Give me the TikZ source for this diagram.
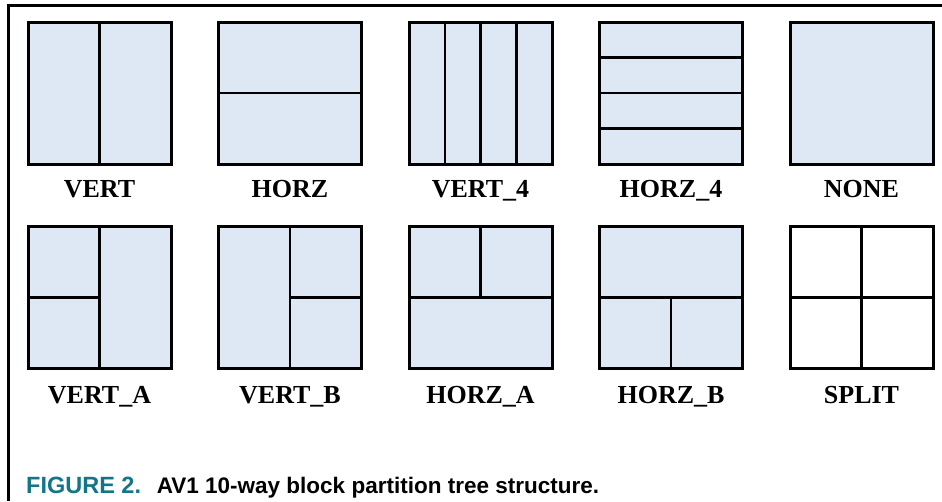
\documentclass[tikz,border=0pt]{standalone}
\usepackage{fontspec}
\usetikzlibrary{calc}
\newfontfamily\lblfont{Liberation Serif}
\newfontfamily\capfont{Liberation Sans}
\definecolor{blockfill}{RGB}{221,232,244}
\definecolor{capteal}{RGB}{18,118,136}
\tikzset{
  blk/.style={draw=black, line width=3pt, fill=blockfill, rectangle,
    minimum width=143pt, minimum height=142pt, inner sep=0pt, outer sep=0pt},
  wblk/.style={blk, fill=white},
  divl/.style={draw=black, line width=2.5pt},
  lbl/.style={anchor=base, inner sep=0pt, font=\lblfont\bfseries\fontsize{26}{28}\selectfont},
  frm/.style={draw=black, line width=3pt}
}
\begin{document}
\begin{tikzpicture}[x=1pt, y=-1pt]
\useasboundingbox (0,0) rectangle (942,501);
% frame
\coordinate (fbl) at (8,501);
\coordinate (ftl) at (8,5.5);
\coordinate (ftr) at (942,5.5);
\draw[frm] (fbl) -- (ftl) -- (ftr);

% row 1
\node[blk] (b1) at (99.5,93) {};
\node[blk] (b2) at (290,93) {};
\node[blk] (b3) at (480.5,93) {};
\node[blk] (b4) at (671,93) {};
\node[blk] (b5) at (861.5,93) {};
% row 2
\node[blk] (b6) at (99.5,297.5) {};
\node[blk] (b7) at (290,297.5) {};
\node[blk] (b8) at (480.5,297.5) {};
\node[blk] (b9) at (671,297.5) {};
\node[wblk] (b10) at (861.5,297.5) {};

% dividers
\draw[divl] (b1.north) -- (b1.south);
\draw[divl] (b2.west) -- (b2.east);
\foreach \f in {0.25,0.5,0.75}{
  \draw[divl] ($(b3.north west)!\f!(b3.north east)$) -- ($(b3.south west)!\f!(b3.south east)$);
  \draw[divl] ($(b4.north west)!\f!(b4.south west)$) -- ($(b4.north east)!\f!(b4.south east)$);
}
\draw[divl] (b6.north) -- (b6.south);
\draw[divl] (b6.west) -- (b6.center);
\draw[divl] (b7.north) -- (b7.south);
\draw[divl] (b7.center) -- (b7.east);
\draw[divl] (b8.west) -- (b8.east);
\draw[divl] (b8.north) -- (b8.center);
\draw[divl] (b9.west) -- (b9.east);
\draw[divl] (b9.center) -- (b9.south);
\draw[divl] (b10.north) -- (b10.south);
\draw[divl] (b10.west) -- (b10.east);

% labels
\node[lbl] (l1) at (99.5,197) {VERT};
\node[lbl] (l2) at (290,197) {HORZ};
\node[lbl] (l3) at (480.5,197) {VERT\_4};
\node[lbl] (l4) at (671,197) {HORZ\_4};
\node[lbl] (l5) at (861.5,197) {NONE};
\node[lbl] (l6) at (99.5,403) {VERT\_A};
\node[lbl] (l7) at (290,403) {VERT\_B};
\node[lbl] (l8) at (480.5,403) {HORZ\_A};
\node[lbl] (l9) at (671,403) {HORZ\_B};
\node[lbl] (l10) at (861.5,403) {SPLIT};

% caption
\node[anchor=base west, inner sep=0pt, font=\capfont\bfseries\fontsize{22.5}{24}\selectfont] (cap) at (26,493)
  {\textcolor{capteal}{\fontsize{23.5}{24}\selectfont FIGURE 2.}\hspace{0.7em}AV1 10-way block partition tree structure.};
\end{tikzpicture}
\end{document}
